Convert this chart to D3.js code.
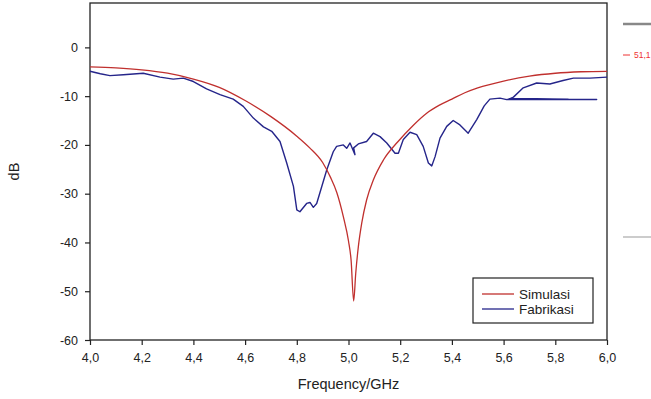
<!DOCTYPE html>
<html>
<head>
<meta charset="utf-8">
<script src="https://cdn.jsdelivr.net/npm/d3@7"></script>
<style>
  body { margin: 0; background: #fff; }
  svg { display: block; font-family: "Liberation Sans", Arial, sans-serif; }
</style>
</head>
<body>
<svg id="mainsvg" width="651" height="399"></svg>
<script>
// Simulasi (red)
const simFreq = [4.0, 4.1, 4.2, 4.3, 4.4, 4.5, 4.6, 4.7, 4.8, 4.85, 4.9, 4.93, 4.955, 4.98, 5.0, 5.01, 5.02,
  5.028, 5.038, 5.051, 5.07, 5.096, 5.135, 5.19, 5.25, 5.3, 5.35, 5.4, 5.45, 5.5, 5.6, 5.7, 5.8, 5.9, 6.0]
const simDb = [-4.0, -4.2, -4.6, -5.3, -6.5, -8.2, -10.9, -14.2, -18.2, -20.6, -23.6, -26.6, -29.8, -34.7, -39.7, -43.6, -52,
  -46.3, -40.9, -36.1, -31.3, -27.2, -23.1, -19.4, -16.0, -13.6, -11.9, -10.6, -9.3, -8.3, -6.9, -5.9, -5.3, -5.0, -4.9]

// Fabrikasi (blue), in measured order (trace doubles back near 5.6-5.96)
const fabFreq = [4.0, 4.04, 4.077, 4.129, 4.206, 4.271, 4.322, 4.361, 4.4, 4.451, 4.503, 4.554, 4.593, 4.632,
  4.671, 4.703, 4.735, 4.761, 4.787, 4.8, 4.812, 4.838, 4.851, 4.864, 4.877, 4.916, 4.941, 4.954, 4.98, 4.993,
  5.006, 5.025, 5.02, 5.038, 5.07, 5.096, 5.122, 5.148, 5.18, 5.193, 5.212, 5.238, 5.264, 5.289, 5.309, 5.322,
  5.335, 5.354, 5.38, 5.405, 5.431, 5.463, 5.496, 5.525, 5.547, 5.586, 5.612, 5.96, 5.62, 5.85, 5.625,
  5.638, 5.676, 5.728, 5.779, 5.83, 5.87, 5.934, 6.0]
const fabDb = [-4.9, -5.4, -5.8, -5.6, -5.3, -6.1, -6.5, -6.3, -7.0, -8.5, -9.7, -10.6, -12.1, -14.5,
  -16.3, -17.2, -19.3, -23.7, -28.5, -33.3, -33.7, -32.0, -31.8, -32.8, -32.0, -25.1, -21.4, -20.3, -20.0, -20.7,
  -19.6, -22.0, -20.6, -19.8, -19.3, -17.6, -18.3, -19.6, -21.7, -21.7, -18.9, -17.4, -17.9, -20.3, -23.7, -24.3,
  -22.4, -18.6, -16.2, -15.0, -15.9, -17.6, -14.8, -12.0, -10.6, -10.4, -10.7, -10.7, -10.55, -10.6, -10.5,
  -10.2, -8.3, -7.3, -7.5, -6.8, -6.3, -6.3, -6.1]

const xTicks = [4.0, 4.2, 4.4, 4.6, 4.8, 5.0, 5.2, 5.4, 5.6, 5.8, 6.0]
const yTicks = [0, -10, -20, -30, -40, -50, -60]
const seriesNames = ['Simulasi', 'Fabrikasi']
const seriesColors = ['#c0302e', '#25258a']

const svg = d3.select('#mainsvg')
const plotLeft = 90, plotRight = 607, plotTop = 3, plotBottom = 340

const x = d3.scaleLinear().domain([4, 6]).range([plotLeft, plotRight])
const y = d3.scaleLinear().domain([-60, 9.1]).range([plotBottom, plotTop])

const fmt = d => d3.format('.1f')(d).replace('.', ',')

// frame
svg.append('rect')
  .attr('x', plotLeft).attr('y', plotTop)
  .attr('width', plotRight - plotLeft).attr('height', plotBottom - plotTop)
  .attr('fill', 'none').attr('stroke', '#222').attr('stroke-width', 1.3)

const xAxis = svg.append('g').attr('transform', `translate(0,${plotBottom})`)
  .call(d3.axisBottom(x).tickValues(xTicks).tickFormat(fmt).tickSize(5).tickSizeOuter(0))
xAxis.select('.domain').remove()
xAxis.selectAll('line').attr('stroke', '#222').attr('stroke-width', 1.2)
xAxis.selectAll('text').attr('font-size', 12.5).attr('fill', '#222').attr('dy', '1.1em')

const yAxis = svg.append('g').attr('transform', `translate(${plotLeft},0)`)
  .call(d3.axisLeft(y).tickValues(yTicks).tickFormat(d => d === 0 ? '0' : '-' + Math.abs(d)).tickSize(5).tickSizeOuter(0))
yAxis.select('.domain').remove()
yAxis.selectAll('line').attr('stroke', '#222').attr('stroke-width', 1.2)
yAxis.selectAll('text').attr('font-size', 12.5).attr('fill', '#222').attr('x', -12)

svg.append('text')
  .attr('x', (plotLeft + plotRight) / 2).attr('y', 389)
  .attr('text-anchor', 'middle').attr('font-size', 14.5).attr('fill', '#222')
  .text('Frequency/GHz')

svg.append('text')
  .attr('transform', `translate(19,${(plotTop + plotBottom) / 2}) rotate(-90)`)
  .attr('text-anchor', 'middle').attr('font-size', 14.5).attr('fill', '#222')
  .text('dB')

// curves
const simLine = d3.line().x(d => x(d[0])).y(d => y(d[1])).curve(d3.curveMonotoneX)
const fabLine = d3.line().x(d => x(d[0])).y(d => y(d[1])).curve(d3.curveLinear)

svg.append('path')
  .datum(d3.zip(fabFreq, fabDb))
  .attr('d', fabLine)
  .attr('fill', 'none').attr('stroke', seriesColors[1]).attr('stroke-width', 1.4)
  .attr('stroke-linejoin', 'round')

svg.append('path')
  .datum(d3.zip(simFreq, simDb))
  .attr('d', simLine)
  .attr('fill', 'none').attr('stroke', seriesColors[0]).attr('stroke-width', 1.3)

// legend
const lg = svg.append('g').attr('transform', 'translate(473,278)')
lg.append('rect').attr('width', 120).attr('height', 45)
  .attr('fill', '#fff').attr('stroke', '#222').attr('stroke-width', 1.2)
seriesNames.forEach((n, i) => {
  lg.append('line')
    .attr('x1', 9).attr('x2', 41).attr('y1', 16 + i * 15).attr('y2', 16 + i * 15)
    .attr('stroke', seriesColors[i]).attr('stroke-width', 1.3)
  lg.append('text')
    .attr('x', 46).attr('y', 16 + i * 15).attr('dy', '0.35em')
    .attr('font-size', 13.5).attr('fill', '#222')
    .text(n)
})

// stray marks at the right edge of the source picture
svg.append('line').attr('x1', 623).attr('x2', 651).attr('y1', 24).attr('y2', 24)
  .attr('stroke', '#888').attr('stroke-width', 2.5)
svg.append('line').attr('x1', 623).attr('x2', 630).attr('y1', 55).attr('y2', 55)
  .attr('stroke', '#e33').attr('stroke-width', 1)
svg.append('text').attr('x', 634).attr('y', 58)
  .attr('font-size', 8.5).attr('fill', '#e33').text('51,1')
svg.append('line').attr('x1', 623).attr('x2', 651).attr('y1', 237).attr('y2', 237)
  .attr('stroke', '#ccc').attr('stroke-width', 2)
</script>
</body>
</html>
